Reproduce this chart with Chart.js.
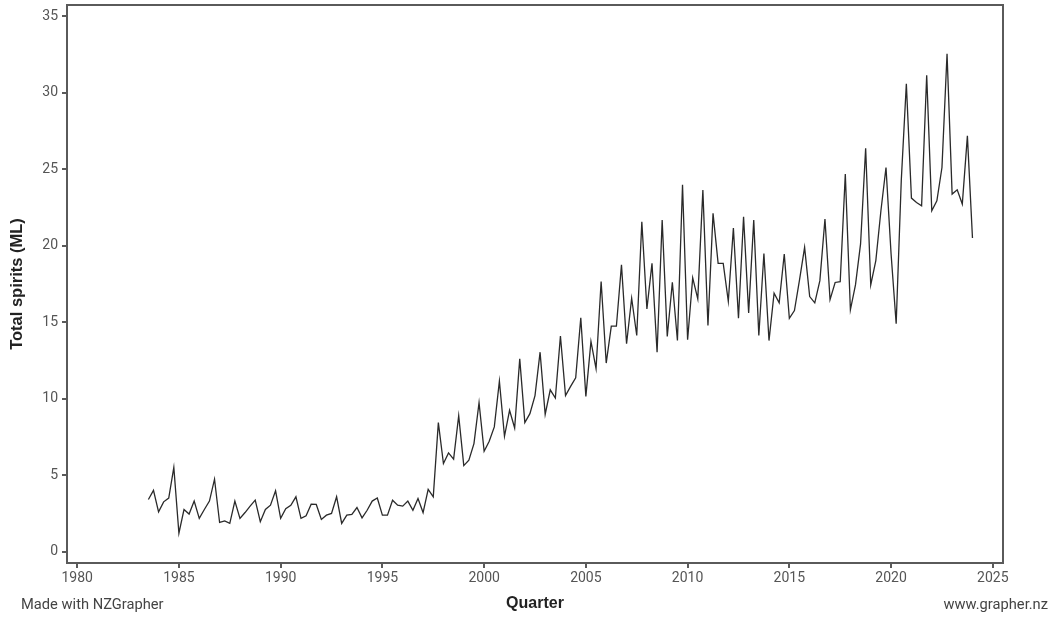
<!DOCTYPE html>
<html>
<head>
<meta charset="utf-8">
<script src="https://cdn.jsdelivr.net/npm/chart.js@4.4.1/dist/chart.umd.min.js"></script>
<style>
  html, body { margin: 0; padding: 0; background: #ffffff; }
  #wrap { width: 1053px; height: 617px; }
</style>
</head>
<body>
<div id="wrap"><canvas id="c" width="1053" height="617"></canvas></div>
<script>
// Quarterly series, first value is 1983 Q3
const startYear = 1983;
const startQuarter = 3;
const spirits = [
  3.4, 4.0,
  2.6, 3.25, 3.5, 5.5,
  1.2, 2.75, 2.45, 3.3,
  2.17, 2.75, 3.3, 4.73,
  1.9, 2.0, 1.84, 3.3,
  2.17, 2.55, 2.97, 3.36,
  1.95, 2.75, 3.03, 3.97,
  2.17, 2.8, 3.03, 3.58,
  2.17, 2.34, 3.1, 3.08,
  2.1, 2.38, 2.49, 3.58,
  1.84, 2.38, 2.43, 2.88,
  2.2, 2.7, 3.3, 3.5,
  2.38, 2.38, 3.36, 3.03,
  2.97, 3.3, 2.7, 3.47,
  2.55, 4.06, 3.58, 8.43,
  5.76, 6.45, 6.04, 8.89,
  5.62, 5.97, 7.06, 9.74,
  6.56, 7.21, 8.15, 11.15,
  7.54, 9.24, 8.08, 12.6,
  8.43, 9.02, 10.2, 13.04,
  8.97, 10.58, 10.04, 14.1,
  10.2, 10.8, 11.37, 15.29,
  10.15, 13.74, 11.96, 17.66,
  12.33, 14.74, 14.74, 18.75,
  13.59, 16.57, 14.13, 21.57,
  15.87, 18.85, 13.04, 21.68,
  14.07, 17.61, 13.8, 23.99,
  13.85, 17.9, 16.53, 23.64,
  14.78, 22.12, 18.85, 18.85,
  16.37, 21.16, 15.26, 21.9,
  15.61, 21.68, 14.13, 19.5,
  13.8, 16.9, 16.27, 19.46,
  15.26, 15.76, 17.77, 19.9,
  16.68, 16.27, 17.72, 21.75,
  16.48, 17.6, 17.65, 24.69,
  15.81, 17.44, 20.12, 26.38,
  17.44, 19.03, 22.29, 25.12,
  19.46, 14.9, 24.25, 30.6,
  23.12, 22.83, 22.62, 31.15,
  22.29, 22.94, 25.12, 32.56,
  23.38, 23.66, 22.73, 27.19,
  20.51
];
const xTicks = [1980, 1985, 1990, 1995, 2000, 2005, 2010, 2015, 2020, 2025];
const yTicks = [0, 5, 10, 15, 20, 25, 30, 35];
const xTitle = 'Quarter';
const yTitle = 'Total spirits (ML)';
const footLeft = 'Made with NZGrapher';
const footRight = 'www.grapher.nz';

// quarter position: year + (quarter-1)/4
const points = spirits.map((v, i) => {
  const qIndex = (startQuarter - 1) + i;
  const year = startYear + Math.floor(qIndex / 4);
  const q = qIndex % 4;
  return { x: year + q / 4, y: v };
});

const boxPlugin = {
  id: 'boxPlugin',
  afterDraw(chart) {
    const { ctx, chartArea } = chart;
    ctx.save();
    ctx.strokeStyle = '#5a5a5a';
    ctx.lineWidth = 2;
    ctx.strokeRect(chartArea.left, chartArea.top, chartArea.right - chartArea.left, chartArea.bottom - chartArea.top);
    ctx.fillStyle = '#444444';
    ctx.font = '14.7px Roboto';
    ctx.textBaseline = 'middle';
    ctx.textAlign = 'left';
    ctx.fillText(footLeft, 21, 605);
    ctx.textAlign = 'right';
    ctx.fillText(footRight, 1048, 605);
    ctx.restore();
  }
};

new Chart(document.getElementById('c'), {
  type: 'line',
  data: {
    datasets: [{
      data: points,
      borderColor: '#2a2a2a',
      borderWidth: 1.3,
      pointRadius: 0,
      tension: 0,
      fill: false
    }]
  },
  options: {
    responsive: false,
    animation: false,
    devicePixelRatio: 1,
    layout: { padding: { top: 5, right: 50, left: 0, bottom: 0 } },
    plugins: { legend: { display: false }, tooltip: { enabled: false } },
    scales: {
      x: {
        type: 'linear',
        min: 1979.5,
        max: 2025.5,
        afterFit(scale) { scale.height = 54; scale.paddingLeft = 0; scale.paddingRight = 0; },
        afterBuildTicks(scale) { scale.ticks = xTicks.map(v => ({ value: v })); },
        ticks: {
          color: '#555555',
          font: { family: 'Roboto', size: 14 },
          padding: 2,
          maxRotation: 0,
          autoSkip: false,
          callback: v => String(v)
        },
        grid: { drawOnChartArea: false, drawTicks: true, tickLength: 5, color: '#5a5a5a', lineWidth: 2 },
        border: { display: true, color: '#5a5a5a', width: 2 },
        title: {
          display: true,
          text: xTitle,
          color: '#222222',
          font: { family: 'Liberation Sans', size: 16, weight: 'bold' },
          padding: { top: 0, bottom: 4 }
        }
      },
      y: {
        type: 'linear',
        min: -0.75,
        max: 35.75,
        afterFit(scale) { scale.width = 67; scale.paddingTop = 0; scale.paddingBottom = 0; },
        afterBuildTicks(scale) { scale.ticks = yTicks.map(v => ({ value: v })); },
        ticks: {
          color: '#555555',
          font: { family: 'Roboto', size: 14 },
          padding: 4,
          autoSkip: false
        },
        grid: { drawOnChartArea: false, drawTicks: true, tickLength: 5, color: '#5a5a5a', lineWidth: 2 },
        border: { display: true, color: '#5a5a5a', width: 2 },
        title: {
          display: true,
          text: yTitle,
          color: '#222222',
          font: { family: 'Liberation Sans', size: 16.5, weight: 'bold' },
          padding: { top: 8, bottom: 0 }
        }
      }
    }
  },
  plugins: [boxPlugin]
});
</script>
</body>
</html>
